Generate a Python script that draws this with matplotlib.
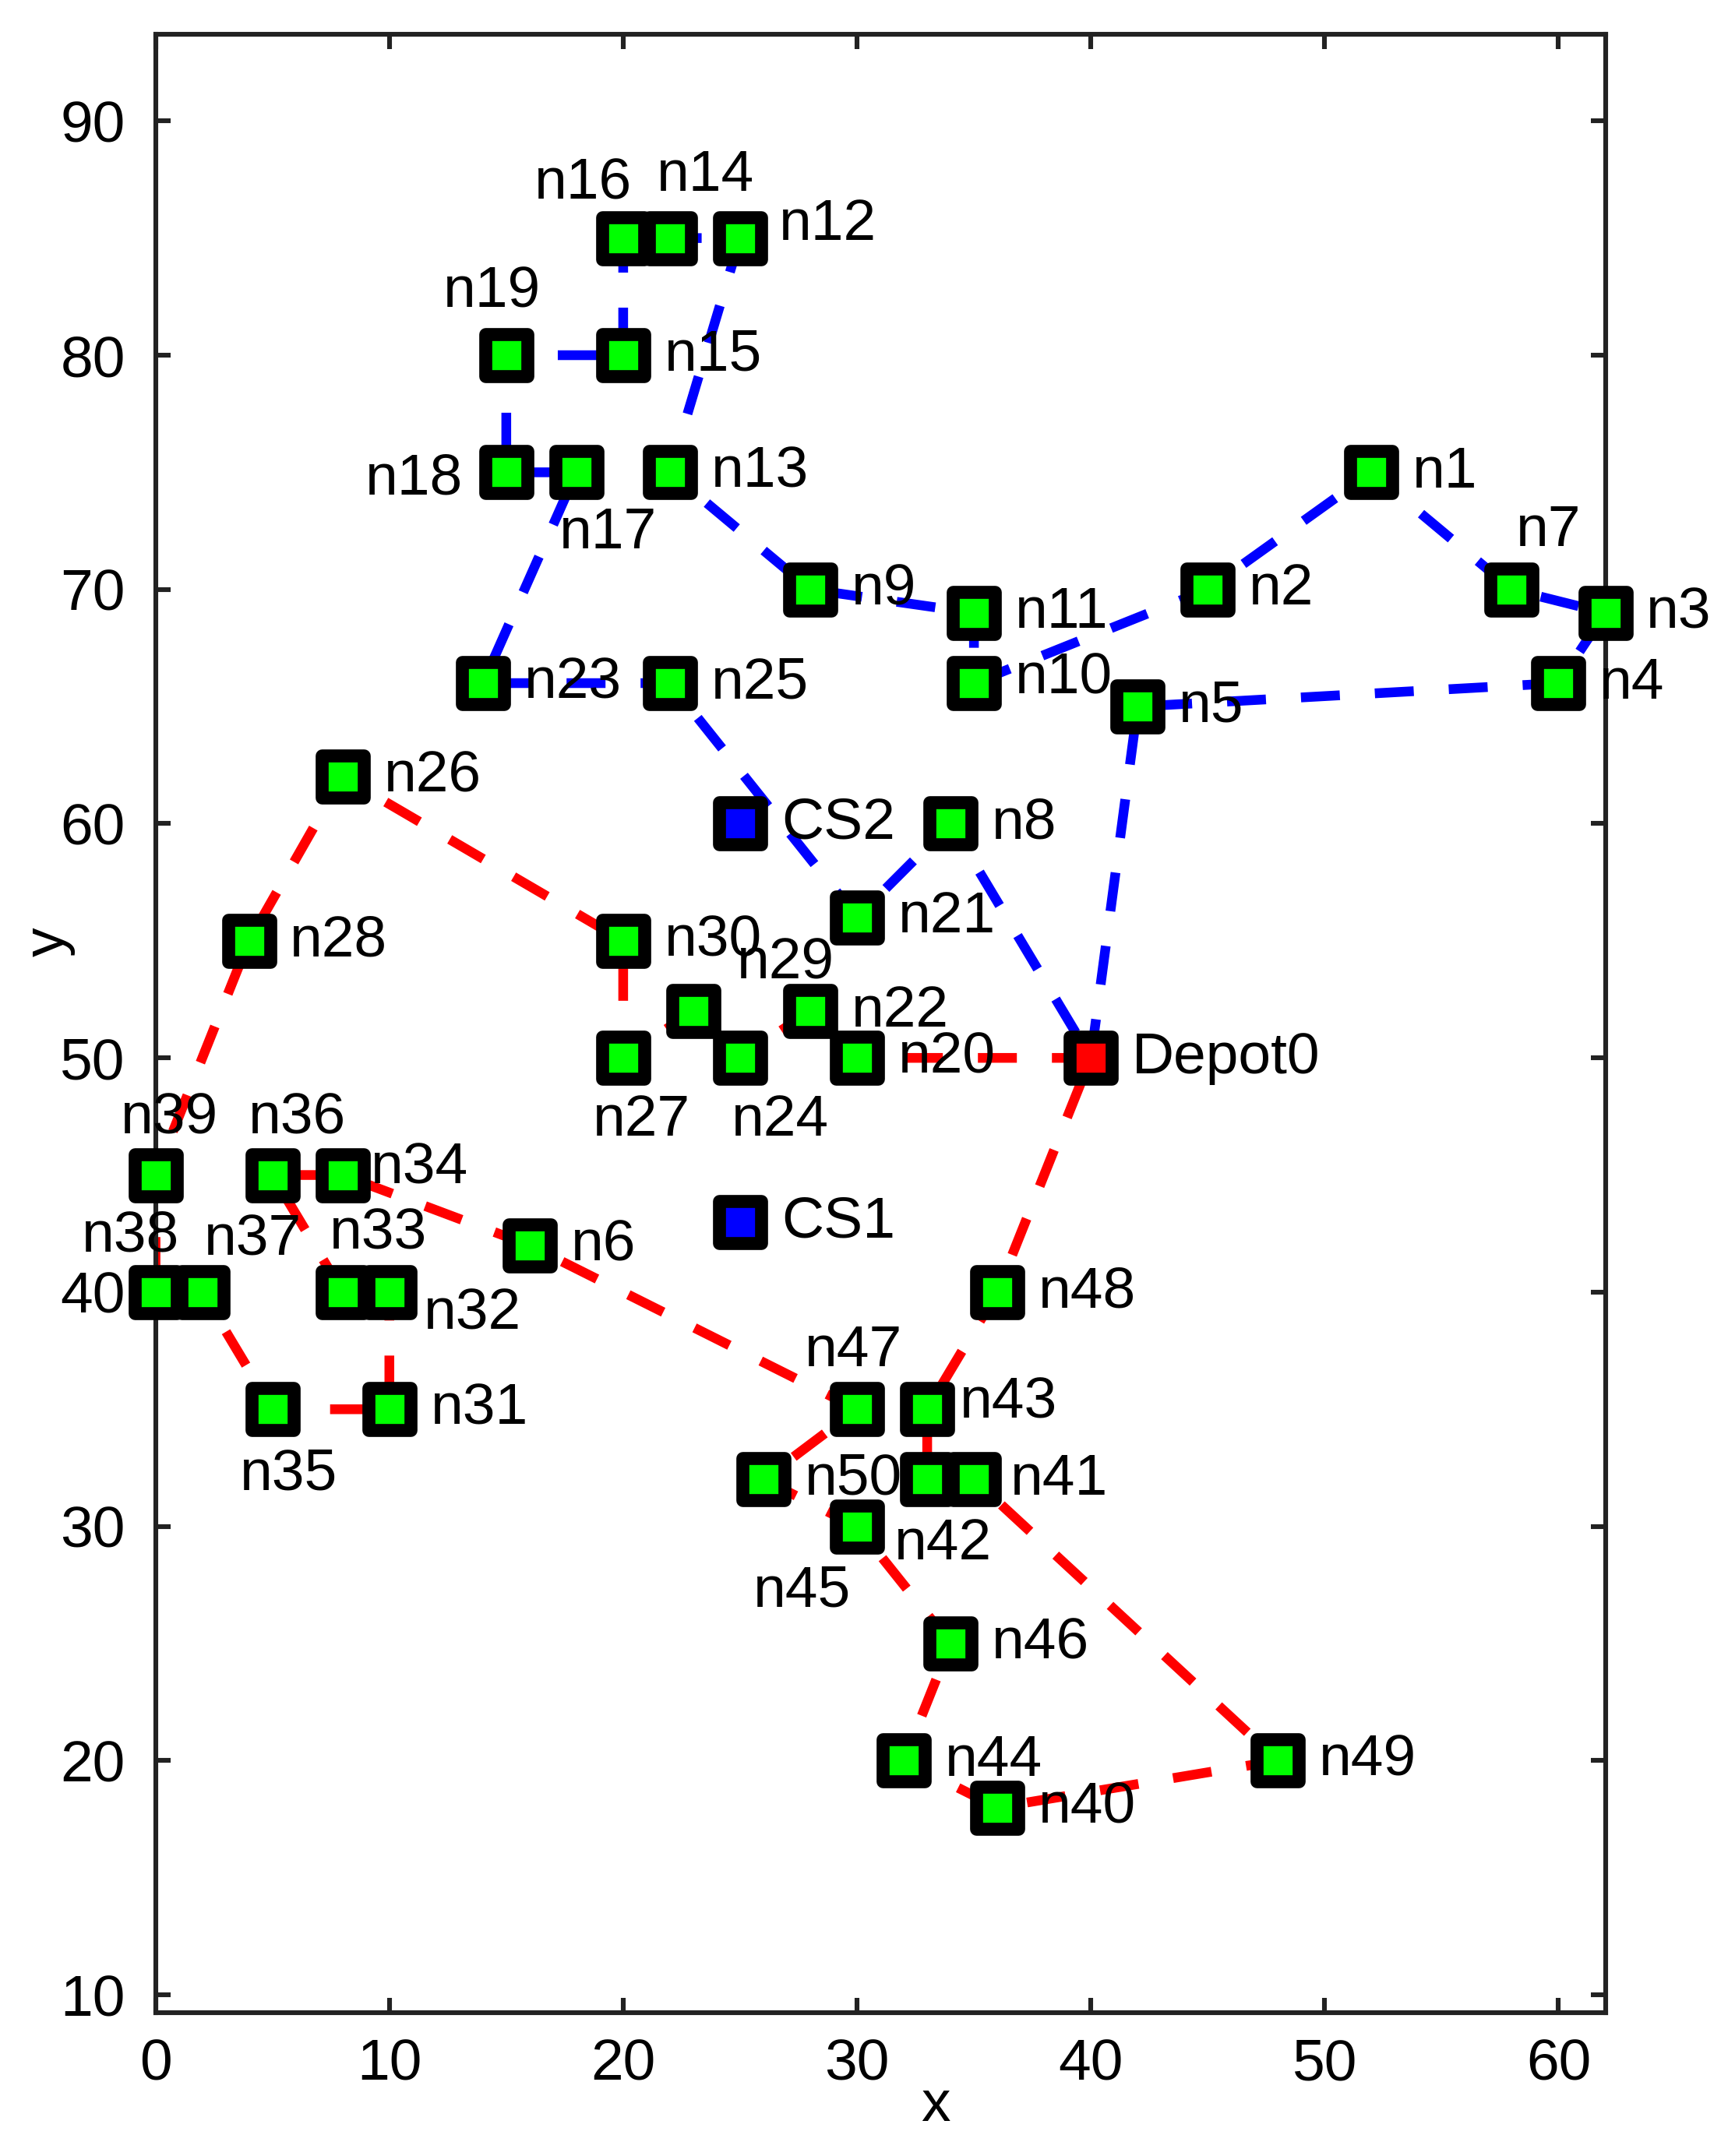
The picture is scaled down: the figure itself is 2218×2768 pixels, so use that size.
import matplotlib.pyplot as plt
from matplotlib.markers import MarkerStyle

plt.rcParams['font.family'] = ['Liberation Sans', 'DejaVu Sans']

# node coordinates
names = ['n1', 'n2', 'n3', 'n4', 'n5', 'n6', 'n7', 'n8', 'n9', 'n10',
         'n11', 'n12', 'n13', 'n14', 'n15', 'n16', 'n17', 'n18', 'n19', 'n20',
         'n21', 'n22', 'n23', 'n24', 'n25', 'n26', 'n27', 'n28', 'n29', 'n30',
         'n31', 'n32', 'n33', 'n34', 'n35', 'n36', 'n37', 'n38', 'n39', 'n40',
         'n41', 'n42', 'n43', 'n44', 'n45', 'n46', 'n47', 'n48', 'n49', 'n50']
xs = [52, 45, 62, 60, 42, 16, 58, 34, 28, 35,
      35, 25, 22, 22, 20, 20, 18, 15, 15, 30,
      30, 28, 14, 25, 22, 8, 20, 4, 23, 20,
      10, 10, 8, 8, 5, 5, 2, 0, 0, 36,
      35, 33, 33, 32, 30, 34, 30, 36, 48, 26]
ys = [75, 70, 69, 66, 65, 42, 70, 60, 70, 66,
      69, 85, 75, 85, 80, 85, 75, 75, 80, 50,
      56, 52, 66, 50, 66, 62, 50, 55, 52, 55,
      35, 40, 40, 45, 35, 45, 40, 40, 45, 18,
      32, 32, 35, 20, 30, 25, 35, 40, 20, 32]

depot = (40, 50)
stations = ['CS1', 'CS2']
st_x = [25, 25]
st_y = [43, 60]

route_blue = ['Depot0', 'n5', 'n4', 'n3', 'n7', 'n1', 'n2', 'n10', 'n11', 'n9',
              'n13', 'n12', 'n14', 'n16', 'n15', 'n19', 'n18', 'n17', 'n23',
              'n25', 'n21', 'n8', 'Depot0']
route_red = ['Depot0', 'n20', 'n22', 'n24', 'n29', 'n27', 'n30', 'n26', 'n28',
             'n39', 'n38', 'n37', 'n35', 'n31', 'n32', 'n33', 'n36', 'n34',
             'n6', 'n47', 'n50', 'n45', 'n46', 'n44', 'n40', 'n49', 'n41',
             'n42', 'n43', 'n48', 'Depot0']

pos = {n: (x, y) for n, x, y in zip(names, xs, ys)}
pos['Depot0'] = depot
for n, x, y in zip(stations, st_x, st_y):
    pos[n] = (x, y)

# label offsets in points (most labels sit to the right)
lab_off = {'n7': (2, 27), 'n12': (18, 6), 'n14': (-6, 29), 'n16': (-41, 25),
           'n17': (-8, -28), 'n19': (-29, 29), 'n24': (-4, -29),
           'n27': (-14, -29), 'n29': (20, 22), 'n32': (16, -10), 'n33': (-6, 27),
           'n34': (13, 3), 'n35': (-15, -30), 'n36': (-11, 26), 'n37': (1, 24),
           'n38': (-34, 26), 'n39': (-16, 26), 'n42': (-15, -30),
           'n43': (15, 3), 'n45': (-48, -30), 'n47': (-24, 27), 'n41': (17, 0),
           'n10': (19, 2)}

fig = plt.figure(figsize=(11.09, 13.84), dpi=200)
ax = fig.add_axes([0.09, 0.0666, 0.839, 0.9175])

dash = (0, (4.0, 3.6))
for route, col in [(route_blue, '#0000ff'), (route_red, '#ff0000')]:
    rx = [pos[n][0] for n in route]
    ry = [pos[n][1] for n in route]
    ax.plot(rx, ry, color=col, lw=4.5, linestyle=dash, zorder=2)

mk = MarkerStyle('s', joinstyle='round')
kw = dict(linestyle='none', marker=mk, ms=19.5, mew=6, mec='black',
          zorder=3, clip_on=False)
ax.plot(xs, ys, mfc='#00ff00', **kw)
ax.plot(st_x, st_y, mfc='#0000ff', **kw)
ax.plot([depot[0]], [depot[1]], mfc='#ff0000', **kw)

for n, (x, y) in pos.items():
    dx, dy = lab_off.get(n, (19, 0))
    ha = 'left'
    if n == 'n18':
        dx, dy, ha = -20, -3, 'right'
    ax.annotate(n, (x, y), xytext=(dx, dy), textcoords='offset points',
                ha=ha, va='center', fontsize=27, zorder=4)

ax.set_xlim(0, 62)
ax.set_ylim(9.25, 93.7)
ax.set_xticks([0, 10, 20, 30, 40, 50, 60])
ax.set_yticks([10, 20, 30, 40, 50, 60, 70, 80, 90])
ax.tick_params(direction='in', length=7, width=2.2, color='#222222',
               top=True, right=True, labelsize=27)
ax.tick_params(axis='x', pad=12)
ax.tick_params(axis='y', pad=14)
for s in ax.spines.values():
    s.set_linewidth(2.2)
    s.set_color('#222222')
ax.text(0.538, -0.047, 'x', transform=ax.transAxes, ha='center', va='center',
        fontsize=27)
ax.text(-0.074, 0.541, 'y', transform=ax.transAxes, ha='center', va='center',
        rotation=90, fontsize=27)

plt.savefig('out.png')
